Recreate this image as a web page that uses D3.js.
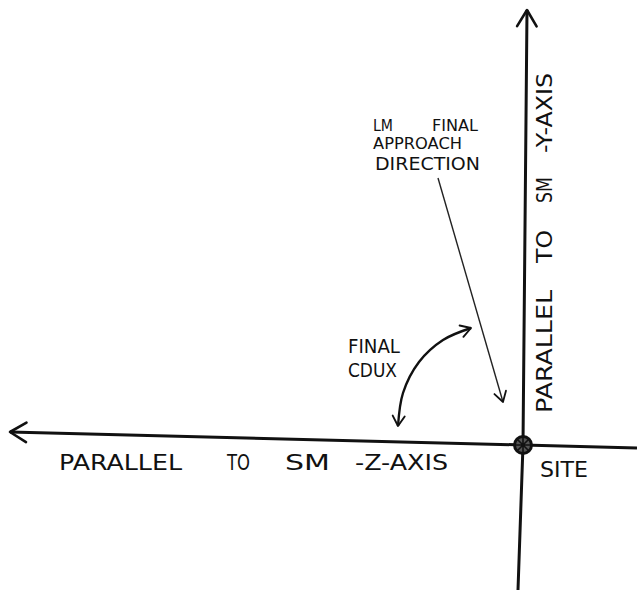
<!DOCTYPE html>
<html>
<head>
<meta charset="utf-8">
<script src="https://cdn.jsdelivr.net/npm/d3@7"></script>
<style>
  body { margin: 0; background: #fff; }
  svg { display: block; }
  text { font-family: "DejaVu Sans", sans-serif; fill: #111; }
</style>
</head>
<body>
<div id="chart"></div>
<script>
// Diagram units: site at (0,0), x to the right, y upward
const width = 637;
const height = 597;

// axes (hand drawn, slightly tilted)
const zAxisLine = [[11.4, -0.3], [0, 0], [-51.3, 1.3]];
const yAxisLine = [[-0.5, -14.5], [0, 0], [0.4, 43.5]];

// arrows
const approachArrow = [[-8.5, 26.7], [-2.0, 4.3]];
const coduxArrow = [[-12.5, 1.9], [-12.0, 5.2], [-10.4, 8.3], [-8.0, 10.5], [-5.2, 11.7]];

// horizontal words: [text, start, end]
const zAxisWords = [
  ["PARALLEL", -46.4, -34.1],
  ["TO", -29.6, -27.3],
  ["SM", -23.8, -19.3],
  ["-Z-AXIS", -16.8, -7.5]
];
const zAxisBaseline = -2.5;

// vertical words: [text, start, end] along y
const yAxisWords = [
  ["PARALLEL", 3.2, 15.5],
  ["TO", 18.2, 21.5],
  ["SM", 24.2, 26.8],
  ["-Y-AXIS", 29.2, 37.2]
];
const yAxisBaseline = 2.9;

// notes: [text, x start, x end, baseline]
const notes = [
  ["LM", -15.0, -13.0, 31.4],
  ["FINAL", -9.1, -4.5, 31.4],
  ["APPROACH", -15.0, -6.1, 29.6],
  ["DIRECTION", -14.8, -4.3, 27.5],
  ["FINAL", -17.5, -12.3, 9.2],
  ["CDUX", -17.5, -12.6, 6.8],
  ["SITE", 1.7, 6.5, -3.2]
];
const noteSizes = [15, 15, 15, 17, 20, 20, 21];

const x = d3.scaleLinear().domain([-51.3, 11.4]).range([10, 637]);
const y = d3.scaleLinear().domain([-14.5, 43.5]).range([590, 10]);

const svg = d3.select("#chart").append("svg")
  .attr("width", width)
  .attr("height", height);

// open V arrowheads
const defs = svg.append("defs");
function addMarker(id, size, sw) {
  defs.append("marker")
    .attr("id", id)
    .attr("viewBox", "-12 -8 14 16")
    .attr("markerWidth", size)
    .attr("markerHeight", size)
    .attr("markerUnits", "userSpaceOnUse")
    .attr("refX", 0)
    .attr("refY", 0)
    .attr("orient", "auto-start-reverse")
    .append("path")
    .attr("d", "M-10,-6 L0,0 L-10,6")
    .attr("fill", "none")
    .attr("stroke", "#111")
    .attr("stroke-width", sw)
    .attr("stroke-linecap", "round")
    .attr("stroke-linejoin", "round");
}
addMarker("axisHead", 26, 1.6);
addMarker("thinHead", 16, 1.8);
addMarker("curveHead", 16, 1.9);

const line = d3.line().x((d) => x(d[0])).y((d) => y(d[1]));
const curve = d3.line().x((d) => x(d[0])).y((d) => y(d[1])).curve(d3.curveCatmullRom);

// Axes
svg.append("path")
  .attr("d", line(zAxisLine))
  .attr("fill", "none")
  .attr("stroke", "#111")
  .attr("stroke-width", 3)
  .attr("marker-end", "url(#axisHead)");

svg.append("path")
  .attr("d", line(yAxisLine))
  .attr("fill", "none")
  .attr("stroke", "#111")
  .attr("stroke-width", 3)
  .attr("marker-end", "url(#axisHead)");

// approach direction arrow
svg.append("path")
  .attr("d", line(approachArrow))
  .attr("fill", "none")
  .attr("stroke", "#222")
  .attr("stroke-width", 1.4)
  .attr("marker-end", "url(#thinHead)");

// final codux curved double arrow
svg.append("path")
  .attr("d", curve(coduxArrow))
  .attr("fill", "none")
  .attr("stroke", "#111")
  .attr("stroke-width", 2.4)
  .attr("marker-start", "url(#curveHead)")
  .attr("marker-end", "url(#curveHead)");

// site marker
const site = svg.append("g").attr("transform", `translate(${x(0)},${y(0)})`);
site.append("circle").attr("r", 8.5).attr("fill", "#555").attr("stroke", "#111").attr("stroke-width", 3);
site.append("path").attr("d", "M-8,0 L8,0 M0,-8 L0,8 M-5.5,-5.5 L5.5,5.5 M-5.5,5.5 L5.5,-5.5")
  .attr("stroke", "#111").attr("stroke-width", 1.6);

// Labels
svg.selectAll("text.zword")
  .data(zAxisWords)
  .enter()
  .append("text")
  .attr("class", "zword")
  .attr("x", (d) => x(d[1]))
  .attr("y", y(zAxisBaseline))
  .attr("font-size", 22)
  .attr("textLength", (d) => x(d[2]) - x(d[1]))
  .attr("lengthAdjust", "spacingAndGlyphs")
  .text((d) => d[0]);

svg.selectAll("text.yword")
  .data(yAxisWords)
  .enter()
  .append("text")
  .attr("class", "yword")
  .attr("transform", (d) => `translate(${x(yAxisBaseline)},${y(d[1])}) rotate(-90)`)
  .attr("font-size", 22)
  .attr("textLength", (d) => y(d[1]) - y(d[2]))
  .attr("lengthAdjust", "spacingAndGlyphs")
  .text((d) => d[0]);

svg.selectAll("text.note")
  .data(notes)
  .enter()
  .append("text")
  .attr("class", "note")
  .attr("x", (d) => x(d[1]))
  .attr("y", (d) => y(d[3]))
  .attr("font-size", (d, i) => noteSizes[i])
  .attr("textLength", (d) => x(d[2]) - x(d[1]))
  .attr("lengthAdjust", "spacingAndGlyphs")
  .text((d) => d[0]);
</script>
</body>
</html>
